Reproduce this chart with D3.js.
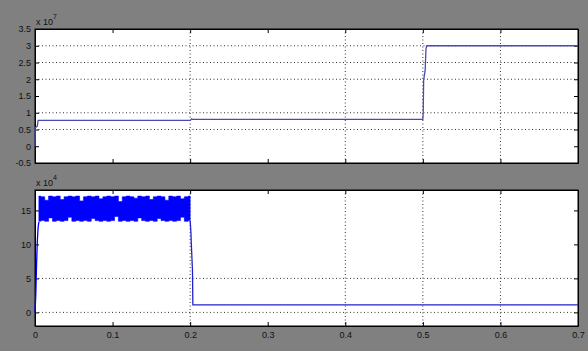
<!DOCTYPE html>
<html>
<head>
<meta charset="utf-8">
<script src="https://cdn.jsdelivr.net/npm/d3@7"></script>
<style>
body { margin: 0; background: #808080; }
text { font-family: "Liberation Sans", Arial, sans-serif; font-size: 9px; fill: #111; }
</style>
</head>
<body>
<script>
var w = 588,
h = 351;

// x axis (time)
var xTicks = [0, 0.1, 0.2, 0.3, 0.4, 0.5, 0.6, 0.7];
var xLabels = ["0", "0.1", "0.2", "0.3", "0.4", "0.5", "0.6", "0.7"];
var xGrid = [0.2, 0.4, 0.5, 0.6];

// top panel (x 10^7)
var topTicks = [-0.5, 0, 0.5, 1, 1.5, 2, 2.5, 3, 3.5];
var topLabels = ["-0.5", "0", "0.5", "1", "1.5", "2", "2.5", "3", "3.5"];
var topGrid = [0.5, 1, 2, 2.5, 3];
var topT = [0, 0.0003, 0.003, 0.004, 0.2, 0.202, 0.203, 0.205, 0.5, 0.5005, 0.501, 0.503, 0.504, 0.505, 0.7];
var topV = [0, 0.55, 0.6, 0.77, 0.77, 0.82, 0.8, 0.8, 0.8, 1.05, 1.97, 2.27, 2.9, 3.0, 3.0];

// bottom panel
var botTicks = [0, 5, 10, 15];
var botLabels = ["0", "5", "10", "15"];
var botGrid = [0, 5];
var riseT = [0, 0.001, 0.002, 0.003, 0.004, 0.005];
var riseV = [0, 2.5, 7, 10.5, 12.5, 13.3];
var bandT = [0.005, 0.01, 0.015, 0.02, 0.025, 0.03, 0.035, 0.04, 0.045, 0.05,
             0.055, 0.06, 0.065, 0.07, 0.075, 0.08, 0.085, 0.09, 0.095, 0.1,
             0.105, 0.11, 0.115, 0.12, 0.125, 0.13, 0.135, 0.14, 0.145, 0.15,
             0.155, 0.16, 0.165, 0.17, 0.175, 0.18, 0.185, 0.19, 0.195, 0.2];
var bandHi = [17.1, 17.0, 16.5, 17.1, 17.0, 17.1, 16.6, 17.0, 17.1, 17.0,
              17.1, 16.4, 17.0, 17.1, 17.0, 17.1, 16.7, 17.0, 17.1, 17.0,
              17.1, 16.3, 17.0, 17.1, 17.0, 16.8, 17.1, 17.0, 17.1, 16.6,
              17.0, 17.1, 17.0, 16.5, 17.1, 17.0, 17.1, 16.7, 17.0, 17.1];
var bandLo = [13.4, 13.5, 13.4, 13.9, 13.4, 13.5, 13.4, 13.5, 14.0, 13.4,
              13.5, 13.4, 13.5, 13.4, 13.8, 13.5, 13.4, 13.5, 13.4, 13.5,
              14.1, 13.4, 13.5, 13.4, 13.5, 13.4, 13.9, 13.5, 13.4, 13.5,
              13.4, 13.8, 13.5, 13.4, 13.5, 13.4, 13.5, 14.0, 13.4, 13.5];
var tailT = [0.2, 0.201, 0.2015, 0.203, 0.2035, 0.7];
var tailV = [13.5, 11.8, 10.1, 6.2, 1.1, 1.1];

var svg = d3.select("body")
.append("svg")
.attr("width", w)
.attr("height", h);

var left = 35, right = 578;
var x = d3.scaleLinear().domain([0, 0.7]).range([left, right]);

function panel(top, bottom, yDomain, ticks, labels, grid, exponent, showX) {
    var y = d3.scaleLinear().domain(yDomain).range([bottom, top]);
    var g = svg.append("g");

    g.append("rect")
    .attr("x", left).attr("y", top)
    .attr("width", right - left).attr("height", bottom - top)
    .attr("fill", "#fff");

    // dotted grid
    g.selectAll(".gx").data(xGrid).enter().append("line")
    .attr("x1", function(d) {return x(d);}).attr("x2", function(d) {return x(d);})
    .attr("y1", top).attr("y2", bottom)
    .attr("stroke", "#333").attr("stroke-dasharray", "1,2.5");
    g.selectAll(".gy").data(grid).enter().append("line")
    .attr("y1", function(d) {return y(d);}).attr("y2", function(d) {return y(d);})
    .attr("x1", left).attr("x2", right)
    .attr("stroke", "#333").attr("stroke-dasharray", "1,2.5");

    // ticks on all four sides, pointing inward
    g.append("g").attr("transform", "translate(" + left + ",0)")
    .call(d3.axisLeft(y).tickValues(ticks).tickSizeInner(-4).tickSizeOuter(0).tickPadding(4)
        .tickFormat(function(d, i) {return labels[i];}));
    g.append("g").attr("transform", "translate(" + right + ",0)")
    .call(d3.axisRight(y).tickValues(ticks).tickSizeInner(-4).tickSizeOuter(0).tickFormat(""));
    g.append("g").attr("transform", "translate(0," + top + ")")
    .call(d3.axisTop(x).tickValues(xTicks).tickSizeInner(-4).tickSizeOuter(0).tickFormat(""));
    g.append("g").attr("transform", "translate(0," + bottom + ")")
    .call(d3.axisBottom(x).tickValues(xTicks).tickSizeInner(-4).tickSizeOuter(0).tickPadding(6)
        .tickFormat(function(d, i) {return showX ? xLabels[i] : "";}));

    g.selectAll(".domain").attr("stroke", "#000");
    g.selectAll(".tick line").attr("stroke", "#000");
    g.selectAll(".tick text").attr("fill", "#111").style("font-size", "9px")
    .style("font-family", "'Liberation Sans', Arial, sans-serif");

    g.append("rect")
    .attr("x", left).attr("y", top)
    .attr("width", right - left).attr("height", bottom - top)
    .attr("fill", "none").attr("stroke", "#000");

    // x 10^n multiplier
    var m = g.append("text").attr("x", left + 1).attr("y", top - 4);
    m.append("tspan").text("x 10");
    m.append("tspan").attr("dy", -6).style("font-size", "7px").text(exponent);

    return y;
}

var yTop = panel(29, 163, [-0.5, 3.5], topTicks, topLabels, topGrid, "7", false);
var yBot = panel(190, 326, [-2, 18], botTicks, botLabels, botGrid, "4", true);

var topLine = d3.line()
.x(function(d) {return x(d[0]);})
.y(function(d) {return yTop(d[1]);});
svg.append("path")
.datum(d3.zip(topT, topV))
.attr("d", topLine)
.attr("fill", "none")
.attr("stroke", "#4a4ab4")
.attr("stroke-width", 1.3);

var botLine = d3.line()
.x(function(d) {return x(d[0]);})
.y(function(d) {return yBot(d[1]);});
svg.append("path")
.datum(d3.zip(riseT, riseV))
.attr("d", botLine)
.attr("fill", "none").attr("stroke", "#0000ff").attr("stroke-width", 1.3);

var band = d3.area()
.curve(d3.curveStep)
.x(function(d) {return x(d[0]);})
.y0(function(d) {return yBot(d[2]);})
.y1(function(d) {return yBot(d[1]);});
svg.append("path")
.datum(d3.zip(bandT, bandHi, bandLo))
.attr("d", band)
.attr("fill", "#0000ff")
.attr("stroke", "#0000ff")
.attr("stroke-width", 0.6);

svg.append("path")
.datum(d3.zip(tailT, tailV))
.attr("d", botLine)
.attr("fill", "none").attr("stroke", "#2222cc").attr("stroke-width", 1.3);
</script>
</body>
</html>
